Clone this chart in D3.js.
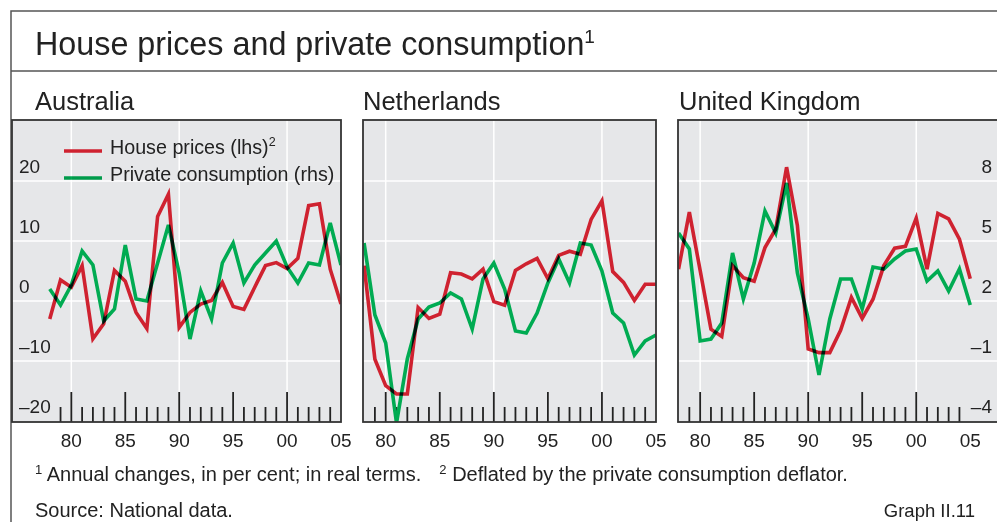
<!DOCTYPE html>
<html>
<head>
<meta charset="utf-8">
<script src="https://cdn.jsdelivr.net/npm/d3@7/dist/d3.min.js"></script>
<style>
  body { margin: 0; background: #fff; }
  svg { display: block; font-family: "Liberation Sans", Arial, sans-serif; }
  .cons { mix-blend-mode: multiply; }
</style>
</head>
<body>
<div id="chart"></div>
<script>
// annual changes, in per cent, real terms
let years = [1978, 1979, 1980, 1981, 1982, 1983, 1984, 1985, 1986, 1987,
             1988, 1989, 1990, 1991, 1992, 1993, 1994, 1995, 1996, 1997,
             1998, 1999, 2000, 2001, 2002, 2003, 2004, 2005];

// house prices, lhs
let ausHouse = [-3.0, 3.5, 2.3, 5.9, -6.3, -3.8, 5.1, 3.3, -1.9, -4.6,
                14.1, 17.8, -4.4, -1.9, -0.5, 0.1, 3.1, -0.9, -1.4, 2.3,
                5.9, 6.4, 5.4, 7.1, 15.9, 16.2, 5.3, -0.5];
let nldHouse = [5.9, -9.7, -14.1, -15.5, -15.5, -1.1, -2.9, -2.2, 4.7, 4.5,
                3.7, 5.3, -0.1, -0.7, 5.1, 6.2, 7.1, 3.7, 7.6, 8.3,
                7.8, 13.6, 16.7, 4.9, 3.1, 0.1, 2.8, 2.8];
let gbrHouse = [5.3, 14.8, 5.1, -4.7, -5.9, 5.9, 3.9, 3.3, 8.9, 12.0,
                22.3, 12.6, -8.0, -8.6, -8.6, -4.9, 0.6, -2.9, 0.3, 5.9,
                8.8, 9.1, 13.8, 5.3, 14.6, 13.7, 10.3, 3.7];

// private consumption, rhs
let ausCons = [2.6, 1.8, 2.8, 4.5, 3.8, 1.0, 1.6, 4.8, 2.1, 2.0,
               3.9, 5.8, 3.4, 0.1, 2.5, 1.1, 3.9, 4.9, 2.9, 3.8,
               4.4, 5.0, 3.7, 2.9, 3.9, 3.8, 5.9, 3.8];
let nldCons = [4.9, 1.3, -0.1, -4.1, -0.9, 1.1, 1.7, 1.9, 2.4, 2.1,
               0.6, 3.1, 3.9, 2.6, 0.5, 0.4, 1.4, 2.9, 4.1, 2.9,
               4.9, 4.8, 3.5, 1.4, 0.9, -0.7, 0.0, 0.3];
let gbrCons = [5.4, 4.6, 0.0, 0.1, 0.9, 4.4, 2.1, 3.9, 6.5, 5.4,
               7.9, 3.4, 1.1, -1.7, 1.1, 3.1, 3.1, 1.6, 3.7, 3.6,
               4.1, 4.5, 4.6, 3.0, 3.5, 2.5, 3.6, 1.8];

let lhsTicks = [-20, -10, 0, 10, 20];
let rhsTicks = [-4, -1, 2, 5, 8];
let gridYears = [1980, 1990, 2000];
let labelYears = [1980, 1985, 1990, 1995, 2000, 2005];
let labelText = ['80', '85', '90', '95', '00', '05'];
let tickYears = [1979, 1980, 1981, 1982, 1983, 1984, 1985, 1986, 1987, 1988,
                 1989, 1990, 1991, 1992, 1993, 1994, 1995, 1996, 1997, 1998,
                 1999, 2000, 2001, 2002, 2003, 2004];

let red = '#cf2230';
let green = '#00ab52';
let plotBg = '#e6e7e9';
let ink = '#333';

let config = { width: 997, height: 522, top: 120, bottom: 422 };

let panels = [
  { name: 'Australia', house: ausHouse, cons: ausCons, x0: 12, x1: 341, from: 1974.5, to: 2005, titleX: 35 },
  { name: 'Netherlands', house: nldHouse, cons: nldCons, x0: 363, x1: 656, from: 1977.9, to: 2005, titleX: 363 },
  { name: 'United Kingdom', house: gbrHouse, cons: gbrCons, x0: 678, x1: 1010, from: 1977.95, to: 2008.68, titleX: 679 }
];

let yL = d3.scaleLinear().domain([-20, 30]).range([421, 121]);
let yR = d3.scaleLinear().domain([-4, 11]).range([421, 121]);

let svg = d3.select('#chart').append('svg')
  .attr('width', config.width)
  .attr('height', config.height);

// outer frame + title
svg.append('path')
  .attr('d', 'M11,522V11H997M11,71H997')
  .attr('fill', 'none').attr('stroke', '#555').attr('stroke-width', 1.5);

let title = svg.append('text').attr('x', 35).attr('y', 55)
  .attr('font-size', 32.3).attr('fill', '#222')
  .text('House prices and private consumption');
title.append('tspan').attr('font-size', 19).attr('dy', -12).text('1');

panels.forEach(function(p, i) {
  let x = d3.scaleLinear().domain([p.from, p.to]).range([p.x0, p.x1]);
  let g = svg.append('g');

  svg.append('text').attr('x', p.titleX).attr('y', 110)
    .attr('font-size', 25.5).attr('fill', '#222').text(p.name);

  g.append('clipPath').attr('id', 'clip' + i)
    .append('rect')
    .attr('x', p.x0).attr('y', config.top)
    .attr('width', p.x1 - p.x0).attr('height', config.bottom - config.top);

  g.append('rect')
    .attr('x', p.x0).attr('y', config.top)
    .attr('width', p.x1 - p.x0).attr('height', config.bottom - config.top)
    .attr('fill', plotBg);

  // grid
  g.selectAll('.hgrid').data(lhsTicks.filter(d => d > -20)).enter()
    .append('line')
    .attr('x1', p.x0).attr('x2', p.x1)
    .attr('y1', d => yL(d)).attr('y2', d => yL(d))
    .attr('stroke', '#fff').attr('stroke-width', 1.5);
  g.selectAll('.vgrid').data(gridYears).enter()
    .append('line')
    .attr('x1', d => x(d)).attr('x2', d => x(d))
    .attr('y1', config.top).attr('y2', config.bottom)
    .attr('stroke', '#fff').attr('stroke-width', 1.5);

  // year ticks along the bottom
  g.selectAll('.tick').data(tickYears).enter()
    .append('line')
    .attr('x1', d => x(d)).attr('x2', d => x(d))
    .attr('y1', d => d % 5 === 0 ? config.bottom - 30 : config.bottom - 15)
    .attr('y2', config.bottom)
    .attr('stroke', '#222').attr('stroke-width', 1.8);

  let series = years.map((yr, j) => ({ year: yr, house: p.house[j], cons: p.cons[j] }));
  let lines = g.append('g').attr('clip-path', 'url(#clip' + i + ')').style('isolation', 'isolate');

  lines.append('path')
    .datum(series)
    .attr('d', d3.line().x(d => x(d.year)).y(d => yL(d.house)))
    .attr('fill', 'none').attr('stroke', red).attr('stroke-width', 3.6)
    .attr('stroke-linejoin', 'miter');
  lines.append('path')
    .datum(series)
    .attr('class', 'cons')
    .attr('d', d3.line().x(d => x(d.year)).y(d => yR(d.cons)))
    .attr('fill', 'none').attr('stroke', green).attr('stroke-width', 3.6)
    .attr('stroke-linejoin', 'miter');

  // panel border
  g.append('rect')
    .attr('x', p.x0).attr('y', config.top)
    .attr('width', p.x1 - p.x0).attr('height', config.bottom - config.top)
    .attr('fill', 'none').attr('stroke', ink).attr('stroke-width', 1.8);

  g.selectAll('.xlab').data(labelYears).enter()
    .append('text')
    .attr('x', d => x(d)).attr('y', 447)
    .attr('text-anchor', 'middle').attr('font-size', 19).attr('fill', '#222')
    .text((d, j) => labelText[j]);

  if (i === 0) {
    g.selectAll('.ylab').data(lhsTicks).enter()
      .append('text')
      .attr('x', 19).attr('y', d => yL(d) - 8)
      .attr('font-size', 19).attr('fill', '#222')
      .text(d => d < 0 ? '\u2013' + Math.abs(d) : d);

    // legend
    let leg = [{ label: 'House prices (lhs)', sup: '2', color: red, y: 151 },
               { label: 'Private consumption (rhs)', sup: '', color: green, y: 178 }];
    leg.forEach(function(l, k) {
      g.append('line')
        .attr('class', k === 1 ? 'cons' : null)
        .attr('x1', 64).attr('x2', 102).attr('y1', l.y).attr('y2', l.y)
        .attr('stroke', l.color).attr('stroke-width', 3.6);
      let t = g.append('text').attr('x', 110).attr('y', l.y + 3)
        .attr('font-size', 19.7).attr('fill', '#222').text(l.label);
      if (l.sup) t.append('tspan').attr('font-size', 12.5).attr('dy', -8).text(l.sup);
    });
  }
  if (i === 2) {
    g.selectAll('.rlab').data(rhsTicks).enter()
      .append('text')
      .attr('x', 992).attr('y', d => yR(d) - 8)
      .attr('text-anchor', 'end').attr('font-size', 19).attr('fill', '#222')
      .text(d => d < 0 ? '\u2013' + Math.abs(d) : d);
  }
});

// footnotes
let fn = svg.append('text').attr('x', 35).attr('y', 481)
  .attr('font-size', 20).attr('fill', '#222');
fn.append('tspan').attr('font-size', 13).attr('dy', -7).text('1');
fn.append('tspan').attr('dy', 7).text(' Annual changes, in per cent; in real terms.');
fn.append('tspan').attr('font-size', 13).attr('dx', 18).attr('dy', -7).text('2');
fn.append('tspan').attr('dy', 7).text(' Deflated by the private consumption deflator.');

svg.append('text').attr('x', 35).attr('y', 517)
  .attr('font-size', 20).attr('fill', '#222').text('Source: National data.');
svg.append('text').attr('x', 975).attr('y', 517).attr('text-anchor', 'end')
  .attr('font-size', 18.5).attr('fill', '#222').text('Graph II.11');
</script>
</body>
</html>
